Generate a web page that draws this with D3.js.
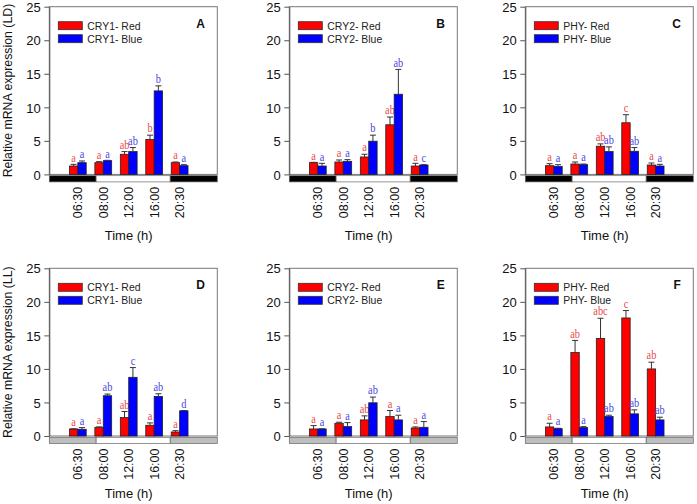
<!DOCTYPE html>
<html>
<head>
<meta charset="utf-8">
<script src="https://cdn.jsdelivr.net/npm/d3@7"></script>
<style>
body{margin:0;background:#fff;}
</style>
</head>
<body>
<div id="chart"></div>
<script>
var times=["06:30","08:00","12:00","16:00","20:30"];
var panelIds=["A","B","C","D","E","F"];
var genes=["CRY1","CRY2","PHY","CRY1","CRY2","PHY"];
var yTicks=[0,5,10,15,20,25];

var redMean=[
  [1.25,1.75,3.0,5.2,1.75],
  [1.75,1.85,2.6,7.4,1.25],
  [1.3,1.55,4.2,7.7,1.4],
  [1.05,1.3,2.75,1.6,0.6],
  [1.05,1.9,2.4,2.9,1.2],
  [1.35,12.45,14.55,17.6,10.0]
];
var redErr=[
  [0.25,0.15,0.4,0.65,0.1],
  [0.05,0.3,0.4,1.15,0.4],
  [0.3,0.3,0.35,1.2,0.3],
  [0.02,0.05,0.9,0.35,0.2],
  [0.5,0.15,0.6,0.9,0.15],
  [0.55,1.8,3.0,1.1,1.0]
];
var blueMean=[
  [1.75,2.05,3.4,12.45,1.3],
  [1.25,1.95,4.95,11.95,1.4],
  [1.2,1.45,3.4,3.45,1.25],
  [1.0,6.0,8.75,5.9,3.75],
  [1.05,1.4,4.95,2.4,1.3],
  [1.1,1.25,2.9,3.3,2.4]
];
var blueErr=[
  [0.25,0.05,0.6,0.75,0.15],
  [0.4,0.25,0.9,3.7,0.05],
  [0.25,0.1,0.7,0.55,0.25],
  [0.25,0.25,1.45,0.4,0.05],
  [0.02,0.6,0.85,0.7,0.85],
  [0.05,0.15,0.2,0.6,0.4]
];
var redSig=[
  ["a","a","ab","b","a"],
  ["a","a","a","ab","a"],
  ["a","a","ab","c","a"],
  ["a","a","ab","a","a"],
  ["a","a","ab","a","a"],
  ["a","ab","abc","c","ab"]
];
var blueSig=[
  ["a","a","ab","b","a"],
  ["a","a","b","ab","c"],
  ["a","a","ab","ab","a"],
  ["a","ab","c","ab","d"],
  ["a","a","ab","a","a"],
  ["a","a","ab","ab","ab"]
];
var rowLabels=["Relative mRNA expression (LD)","Relative mRNA expression (LL)"];
var lightOn=0.72, lightOff=3.63;

var width=697, height=504;
var lefts=[49.3,289.3,525.3], tops=[6.7,268.3];
var titleOff=[66,62];
var pw=168, ph=167.7;
var red="#ff0000", blue="#0000ff";
var sans="Liberation Sans, Arial, sans-serif";

var svg=d3.select("#chart").append("svg")
  .attr("width",width).attr("height",height)
  .attr("font-family",sans);

var x=d3.scaleLinear().domain([-1.12,5.48]).range([0,pw]);
var y=d3.scaleLinear().domain([0,25]).range([ph,0]);
var bw=8.4;

function drawPanel(p){
  var col=p%3, row=Math.floor(p/3);
  var g=svg.append("g")
    .attr("transform","translate("+lefts[col]+","+tops[row]+")");

  // frame
  g.append("rect").attr("x",0).attr("y",0).attr("width",pw).attr("height",ph)
    .attr("fill","none").attr("stroke","#777").attr("stroke-width",1);

  // y axis
  var ax=g.append("g").call(d3.axisLeft(y).tickValues(yTicks).tickSize(5).tickSizeOuter(0));
  ax.attr("font-family",sans).attr("font-size",null);
  ax.select(".domain").attr("stroke","#555");
  ax.selectAll(".tick line").attr("stroke","#555");
  ax.selectAll(".tick text")
    .attr("x",-8.5).attr("dy","0.36em")
    .attr("font-size","13px").attr("fill","#111");

  // light / dark strip
  var dark = row==0 ? "#000" : "#bdbdbd";
  var strip=[[x.domain()[0],lightOn,dark],[lightOn,lightOff,"#fff"],[lightOff,x.domain()[1],dark]];
  g.selectAll(".strip").data(strip).enter().append("rect")
    .attr("x",function(d){return x(d[0]);})
    .attr("width",function(d){return x(d[1])-x(d[0]);})
    .attr("y",ph+1.3).attr("height",6.2)
    .attr("fill",function(d){return d[2];})
    .attr("stroke","#666").attr("stroke-width",0.7);

  // bars
  var series=[
    {mean:redMean[p],err:redErr[p],sig:redSig[p],fill:red,txt:"#e84a4a",off:-bw},
    {mean:blueMean[p],err:blueErr[p],sig:blueSig[p],fill:blue,txt:"#4848e0",off:0}
  ];
  series.forEach(function(s){
    var items=times.map(function(t,i){return {i:i,m:s.mean[i],e:s.err[i],l:s.sig[i]};});
    g.selectAll(null).data(items).enter().append("rect")
      .attr("x",function(d){return x(d.i)+s.off;})
      .attr("width",bw)
      .attr("y",function(d){return y(d.m);})
      .attr("height",function(d){return y(0)-y(d.m);})
      .attr("fill",s.fill).attr("stroke","#222").attr("stroke-width",0.8);
    // error bars
    g.selectAll(null).data(items).enter().append("path")
      .attr("d",function(d){
        var cx=x(d.i)+s.off+bw/2, y0=y(d.m), y1=y(d.m+d.e);
        return "M"+cx+","+y0+"V"+y1+"M"+(cx-3)+","+y1+"H"+(cx+3);
      })
      .attr("stroke","#333").attr("stroke-width",1).attr("fill","none");
    // significance letters
    g.selectAll(null).data(items).enter().append("text")
      .attr("transform",function(d){
        return "translate("+(x(d.i)+s.off+bw/2)+","+(y(d.m+d.e)-2.8)+") scale(0.9,1)";
      })
      .attr("text-anchor","middle")
      .attr("font-family","Liberation Serif, Times New Roman, serif")
      .attr("font-size","11.5px")
      .attr("fill",s.txt)
      .text(function(d){return d.l;});
  });

  // time tick labels
  g.selectAll(null).data(times).enter().append("text")
    .attr("transform",function(d,i){
      return "translate("+x(i)+","+(ph+12.5)+") rotate(-90)";
    })
    .attr("text-anchor","end")
    .attr("dy","0.36em")
    .attr("font-size","12.5px").attr("fill","#111")
    .text(function(d){return d;});

  // x title
  g.append("text")
    .attr("transform","translate("+((x(0)+x(4))/2)+","+(ph+titleOff[row])+")")
    .attr("text-anchor","middle").attr("font-size","13px").attr("fill","#111")
    .text("Time (h)");

  // legend
  var leg=[{c:red,t:genes[p]+"- Red"},{c:blue,t:genes[p]+"- Blue"}];
  var lg=g.selectAll(".leg").data(leg).enter().append("g")
    .attr("transform",function(d,i){return "translate(9,"+(15+i*13)+")";});
  lg.append("rect").attr("width",24).attr("height",8)
    .attr("fill",function(d){return d.c;}).attr("stroke","#333").attr("stroke-width",0.8);
  lg.append("text")
    .attr("transform","translate(29,8) scale(0.95,1)")
    .attr("font-size","11px").attr("fill","#222")
    .text(function(d){return d.t;});

  // panel letter
  g.append("text")
    .attr("transform","translate("+(pw-12.5)+",21)")
    .attr("text-anchor","end").attr("font-size","12px").attr("font-weight","bold")
    .attr("fill","#111")
    .text(panelIds[p]);

  // y title on left column only
  if(col==0){
    svg.append("text")
      .attr("transform","translate(8,"+(tops[row]+ph/2)+") rotate(-90)")
      .attr("text-anchor","middle").attr("dy","0.35em")
      .attr("font-size","12.3px").attr("fill","#111")
      .text(rowLabels[row]);
  }
}

for(var p=0;p<6;p++){ drawPanel(p); }
</script>
</body>
</html>
